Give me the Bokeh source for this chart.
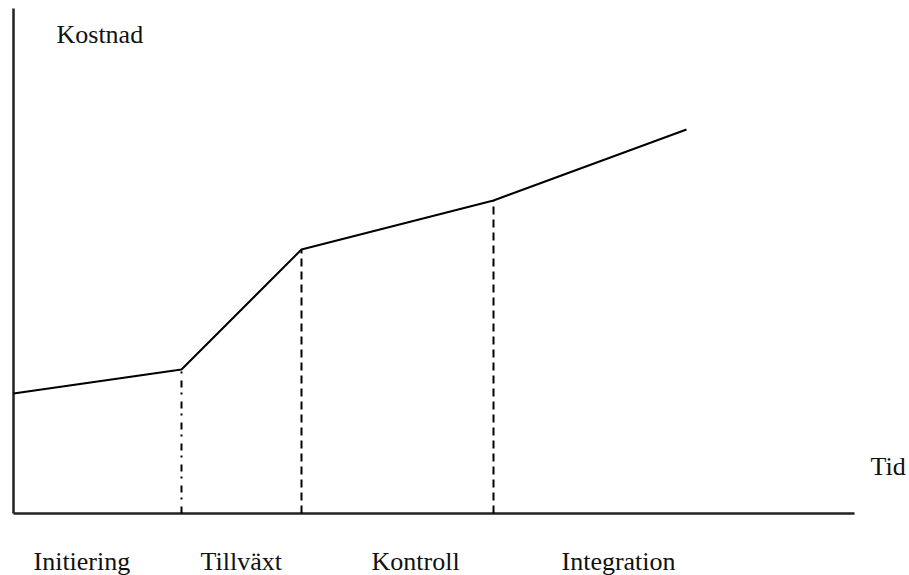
from bokeh.plotting import figure
from bokeh.models import Range1d
from bokeh.core.properties import value
from bokeh.embed import file_html
from bokeh.resources import INLINE

# Data (abstract time / cost units)
time_pts = [0.0, 16.8, 28.8, 48.0, 67.3]
cost_pts = [12.0, 14.4, 26.4, 31.3, 38.4]

phases = ["Initiering", "Tillväxt", "Kontroll", "Integration"]
phase_label_x = [2.0, 18.7, 35.8, 54.8]
phase_label_y = -4.8

y_label = "Kostnad"
x_label = "Tid"

axis_x_end = 84.1
axis_y_end = 50.5

FONT = value("Liberation Serif")

p = figure(width=909, height=575, output_backend="svg", toolbar_location=None,
           x_range=Range1d(-1.3, 89.6), y_range=Range1d(-6.2, 51.3),
           x_axis_type=None, y_axis_type=None, min_border=0)
p.outline_line_color = None
p.xgrid.visible = False
p.ygrid.visible = False
p.background_fill_color = "white"
p.border_fill_color = "white"

# axes lines
p.segment(x0=[0, 0], y0=[0, 0], x1=[axis_x_end, 0], y1=[0, axis_y_end],
          line_color="#222222", line_width=2.5)

# drop lines
p.segment(x0=[time_pts[1]], y0=[0], x1=[time_pts[1]], y1=[cost_pts[1]],
          line_color="black", line_width=2, line_dash="7 7 2 5")
p.segment(x0=time_pts[2:4], y0=[0, 0], x1=time_pts[2:4], y1=cost_pts[2:4],
          line_color="black", line_width=2, line_dash="8 5")

# cost curve
p.line(time_pts, cost_pts, line_color="black", line_width=2)

# labels
p.text(x=[4.3], y=[47.9], text=[y_label], text_font=FONT, text_font_size="26px",
       text_color="#111111", text_baseline="alphabetic", text_align="left")
p.text(x=[85.7], y=[4.7], text=[x_label], text_font=FONT, text_font_size="26px",
       text_color="#111111", text_baseline="alphabetic", text_align="left")
p.text(x=phase_label_x, y=[phase_label_y] * len(phases), text=phases, text_font=FONT,
       text_font_size="26px", text_color="#111111", text_baseline="alphabetic",
       text_align="left")

open("out.html", "w").write(file_html(p, INLINE))
